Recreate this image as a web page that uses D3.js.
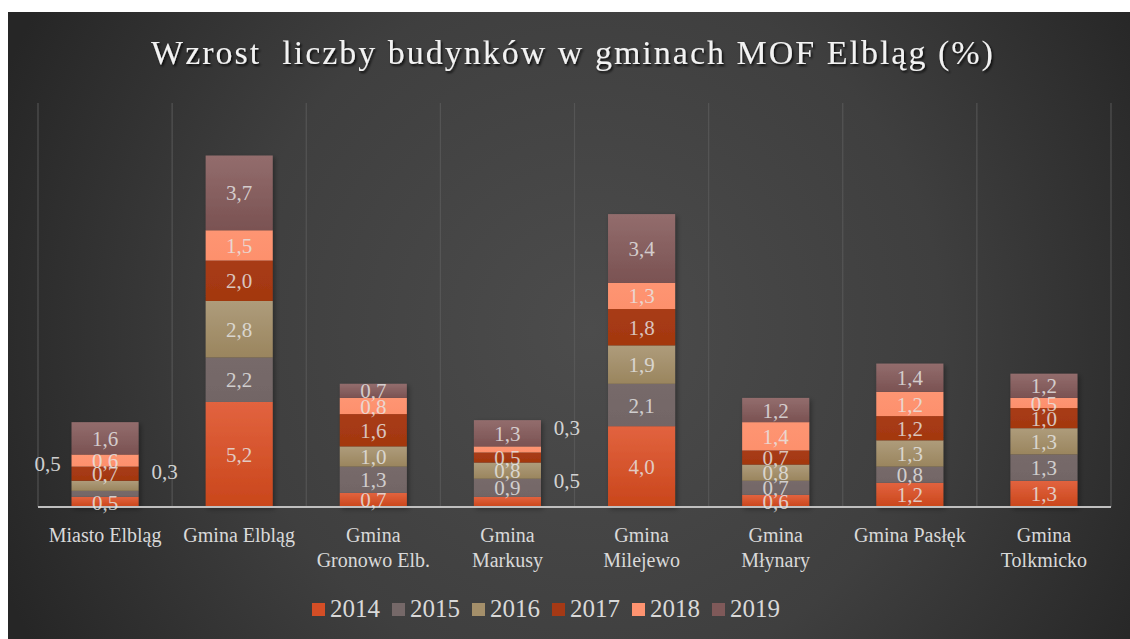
<!DOCTYPE html>
<html lang="pl">
<head>
<meta charset="utf-8">
<script src="https://cdn.jsdelivr.net/npm/d3@7"></script>
<style>
  html, body { margin: 0; padding: 0; background: #ffffff; }
  svg { display: block; }
  text { font-family: "Liberation Serif", "DejaVu Serif", serif; }
</style>
</head>
<body>
<svg id="chart" width="1130" height="639"></svg>
<script>
// Gminy MOF Elbląg (line breaks mark wrapped axis labels)
const categories = [
  "Miasto Elbląg", "Gmina Elbląg", "Gmina\nGronowo Elb.", "Gmina\nMarkusy",
  "Gmina\nMilejewo", "Gmina\nMłynary", "Gmina Pasłęk", "Gmina\nTolkmicko"
];
const years = ["2014", "2015", "2016", "2017", "2018", "2019"];

// Wzrost liczby budynków (%) w kolejnych latach
const v2014 = [0.5, 5.2, 0.7, 0.5, 4.0, 0.6, 1.2, 1.3];
const v2015 = [0.3, 2.2, 1.3, 0.9, 2.1, 0.7, 0.8, 1.3];
const v2016 = [0.5, 2.8, 1.0, 0.8, 1.9, 0.8, 1.3, 1.3];
const v2017 = [0.7, 2.0, 1.6, 0.5, 1.8, 0.7, 1.2, 1.0];
const v2018 = [0.6, 1.5, 0.8, 0.3, 1.3, 1.4, 1.2, 0.5];
const v2019 = [1.6, 3.7, 0.7, 1.3, 3.4, 1.2, 1.4, 1.2];
const seriesValues = [v2014, v2015, v2016, v2017, v2018, v2019];

// Value-axis range
const yMax = 20;

// Labels of thin segments drawn beside the bar: [category index, year index, side]
const outsideLabels = [[0, 2, "left"], [0, 1, "right"], [3, 4, "right"], [3, 0, "right"]];

const colors = {
  "2014": ["#e2633f", "#c9461b"],
  "2015": ["#776a6a", "#726565"],
  "2016": ["#ae9c7b", "#9a855e"],
  "2017": ["#a83b16", "#a3380f"],
  "2018": ["#fe9573", "#fd906c"],
  "2019": ["#936d6d", "#7a5252"]
};
const legendColors = {
  "2014": "#d44e26", "2015": "#756868", "2016": "#a48f6a",
  "2017": "#a53915", "2018": "#fe9370", "2019": "#7f5959"
};

const svg = d3.select("#chart");
const W = 1130, H = 639;
const frame = { x: 8, y: 12 };
const plot = { left: 38, right: 1111, top: 103, bottom: 507 };

const defs = svg.append("defs");
const bg = defs.append("radialGradient").attr("id", "bg")
  .attr("gradientUnits", "userSpaceOnUse")
  .attr("cx", 590).attr("cy", 330).attr("r", 640);
bg.append("stop").attr("offset", "0").attr("stop-color", "#4c4c4c");
bg.append("stop").attr("offset", "0.55").attr("stop-color", "#3f3f3f");
bg.append("stop").attr("offset", "1").attr("stop-color", "#262626");

years.forEach(y => {
  const g = defs.append("linearGradient").attr("id", "g" + y)
    .attr("x1", 0).attr("y1", 0).attr("x2", 0).attr("y2", 1);
  g.append("stop").attr("offset", "0").attr("stop-color", colors[y][0]);
  g.append("stop").attr("offset", "1").attr("stop-color", colors[y][1]);
});

const shadow = defs.append("filter").attr("id", "shadow")
  .attr("x", "-20%").attr("y", "-20%").attr("width", "140%").attr("height", "140%");
shadow.append("feDropShadow").attr("dx", 2).attr("dy", 2).attr("stdDeviation", 2.5)
  .attr("flood-color", "#000").attr("flood-opacity", 0.35);

const tshadow = defs.append("filter").attr("id", "tshadow")
  .attr("x", "-10%").attr("y", "-30%").attr("width", "120%").attr("height", "160%");
tshadow.append("feDropShadow").attr("dx", 1.5).attr("dy", 2).attr("stdDeviation", 1.2)
  .attr("flood-color", "#000").attr("flood-opacity", 0.8);

svg.append("rect").attr("x", frame.x).attr("y", frame.y)
  .attr("width", W - frame.x).attr("height", H - frame.y).attr("fill", "url(#bg)");

// Title
svg.append("text")
  .attr("x", 573).attr("y", 64)
  .attr("text-anchor", "middle")
  .attr("fill", "#f2f2f2")
  .attr("font-size", 34)
  .attr("letter-spacing", 2.0)
  .attr("filter", "url(#tshadow)")
  .attr("xml:space", "preserve")
  .text("Wzrost  liczby budynków w gminach MOF Elbląg (%)");

// Scales
const x = d3.scaleBand().domain(categories)
  .range([plot.left, plot.right]).paddingInner(0.5).paddingOuter(0.25);
const y = d3.scaleLinear().domain([0, yMax]).range([plot.bottom, plot.top]);

// Vertical gridlines between categories
const step = x.step();
svg.append("g").selectAll("line")
  .data(d3.range(categories.length + 1))
  .join("line")
  .attr("x1", i => plot.left + i * step).attr("x2", i => plot.left + i * step)
  .attr("y1", plot.top).attr("y2", plot.bottom)
  .attr("stroke", "#5a5a5a").attr("stroke-width", 1.2).attr("opacity", 0.8);

// Stacked data
const rows = categories.map((c, i) => {
  const r = { cat: c };
  years.forEach((yr, k) => { r[yr] = seriesValues[k][i]; });
  return r;
});
const stack = d3.stack().keys(years)(rows);

const barsG = svg.append("g").attr("filter", "url(#shadow)");
stack.forEach(layer => {
  barsG.append("g").selectAll("rect")
    .data(layer)
    .join("rect")
    .attr("x", d => x(d.data.cat))
    .attr("width", x.bandwidth())
    .attr("y", d => y(d[1]))
    .attr("height", d => y(d[0]) - y(d[1]))
    .attr("fill", "url(#g" + layer.key + ")");
});

// Axis line
svg.append("line")
  .attr("x1", plot.left).attr("x2", plot.right)
  .attr("y1", plot.bottom).attr("y2", plot.bottom)
  .attr("stroke", "#bfbfbf").attr("stroke-width", 2);

// Data labels
const fmt = v => d3.format(".1f")(v).replace(".", ",");
const isOutside = (ci, yi) => outsideLabels.find(o => o[0] === ci && o[1] === yi);
const labelsG = svg.append("g");
stack.forEach((layer, yi) => {
  layer.forEach((d, ci) => {
    const o = isOutside(ci, yi);
    const mid = y((d[0] + d[1]) / 2);
    let lx = x(d.data.cat) + x.bandwidth() / 2, ly = mid;
    if (o) {
      lx = o[2] === "left" ? x(d.data.cat) - 24 : x(d.data.cat) + x.bandwidth() + 26;
      ly = mid - 22;
    }
    labelsG.append("text")
      .attr("x", lx).attr("y", ly)
      .attr("dy", "0.36em")
      .attr("text-anchor", "middle")
      .attr("font-size", 21)
      .attr("fill", "#e6e6e6")
      .attr("fill-opacity", o ? 0.9 : 0.82)
      .text(fmt(d.data[layer.key]));
  });
});

// Category axis labels
const axisG = svg.append("g");
categories.forEach(c => {
  const t = axisG.append("text")
    .attr("x", x(c) + x.bandwidth() / 2).attr("y", 542)
    .attr("text-anchor", "middle")
    .attr("font-size", 20)
    .attr("fill", "#d9d9d9");
  c.split("\n").forEach((line, i) => {
    t.append("tspan").attr("x", x(c) + x.bandwidth() / 2)
      .attr("dy", i === 0 ? 0 : 25).text(line);
  });
});

// Legend
const legend = svg.append("g").attr("transform", "translate(312,0)");
years.forEach((yr, i) => {
  const g = legend.append("g").attr("transform", `translate(${i * 80},0)`);
  g.append("rect").attr("x", 0).attr("y", 603).attr("width", 13).attr("height", 13)
    .attr("fill", legendColors[yr]);
  g.append("text").attr("x", 18).attr("y", 617)
    .attr("font-size", 25).attr("fill", "#d9d9d9").text(yr);
});
</script>
</body>
</html>
